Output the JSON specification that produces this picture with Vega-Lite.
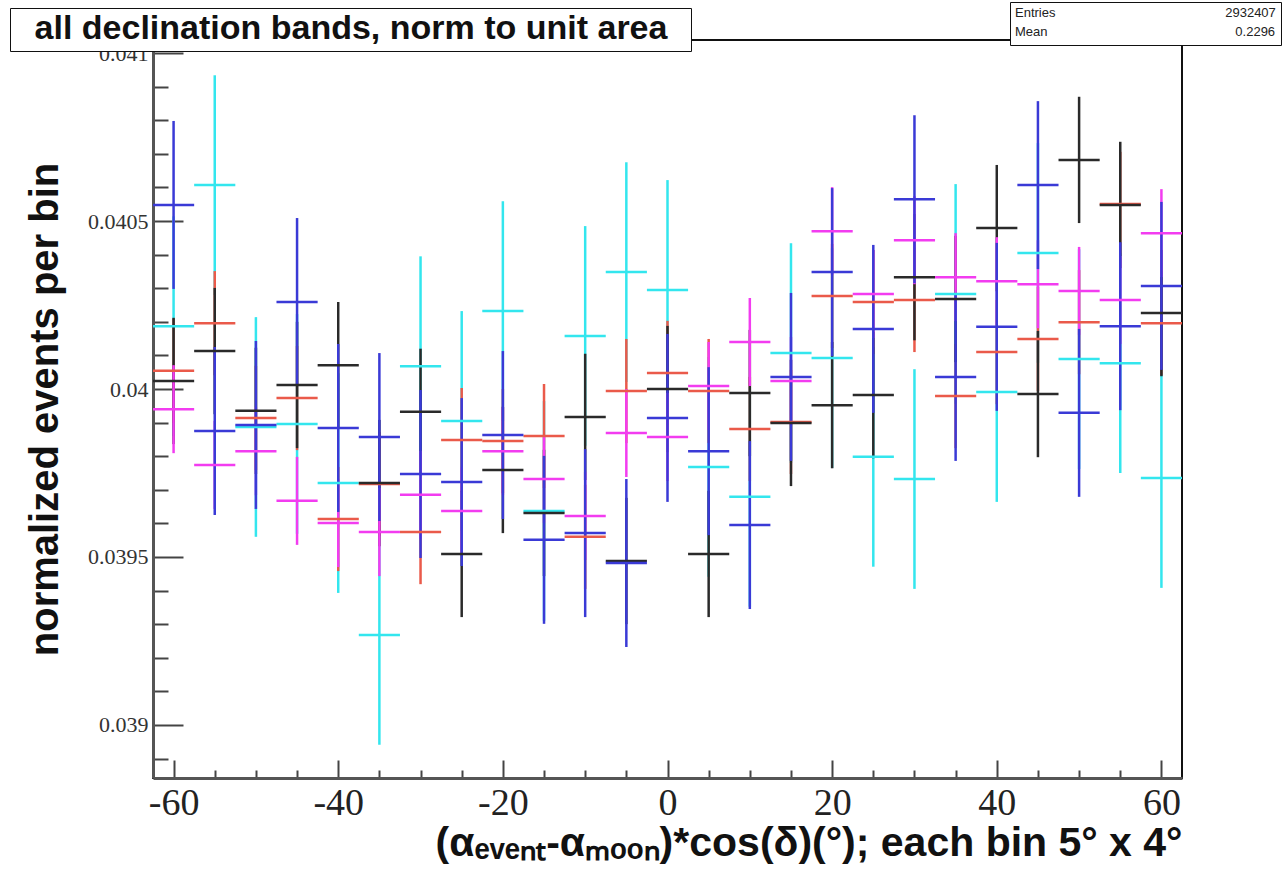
{
  "$schema": "https://vega.github.io/schema/vega-lite/v6.json",
  "autosize": {"type": "none"},
  "padding": {"left": 153, "top": 40, "right": 104, "bottom": 98},
  "width": 1029,
  "height": 738,
  "background": "white",
  "config": {"view": {"stroke": "#111", "strokeWidth": 2}},
  "data": {"values": [
    {"s":"cyan","x":-60,"y":0.040187,"e":0.000327,"w":2.5},
    {"s":"cyan","x":-55,"y":0.040607,"e":0.000327,"w":2.5},
    {"s":"cyan","x":-50,"y":0.039887,"e":0.000327,"w":2.5},
    {"s":"cyan","x":-45,"y":0.039896,"e":0.000327,"w":2.5},
    {"s":"cyan","x":-40,"y":0.039720,"e":0.000327,"w":2.5},
    {"s":"cyan","x":-35,"y":0.039268,"e":0.000327,"w":2.5},
    {"s":"cyan","x":-30,"y":0.040068,"e":0.000327,"w":2.5},
    {"s":"cyan","x":-25,"y":0.039905,"e":0.000327,"w":2.5},
    {"s":"cyan","x":-20,"y":0.040232,"e":0.000327,"w":2.5},
    {"s":"cyan","x":-15,"y":0.039637,"e":0.000327,"w":2.5},
    {"s":"cyan","x":-10,"y":0.040158,"e":0.000327,"w":2.5},
    {"s":"cyan","x":-5,"y":0.040348,"e":0.000327,"w":2.5},
    {"s":"cyan","x":0,"y":0.040295,"e":0.000327,"w":2.5},
    {"s":"cyan","x":5,"y":0.039768,"e":0.000327,"w":2.5},
    {"s":"cyan","x":10,"y":0.039679,"e":0.000327,"w":2.5},
    {"s":"cyan","x":15,"y":0.040107,"e":0.000327,"w":2.5},
    {"s":"cyan","x":20,"y":0.040092,"e":0.000327,"w":2.5},
    {"s":"cyan","x":25,"y":0.039798,"e":0.000327,"w":2.5},
    {"s":"cyan","x":30,"y":0.039732,"e":0.000327,"w":2.5},
    {"s":"cyan","x":35,"y":0.040283,"e":0.000327,"w":2.5},
    {"s":"cyan","x":40,"y":0.039991,"e":0.000327,"w":2.5},
    {"s":"cyan","x":45,"y":0.040405,"e":0.000327,"w":2.5},
    {"s":"cyan","x":50,"y":0.040089,"e":0.000327,"w":2.5},
    {"s":"cyan","x":55,"y":0.040077,"e":0.000327,"w":2.5},
    {"s":"cyan","x":60,"y":0.039735,"e":0.000327,"w":2.5},
    {"s":"red","x":-60,"y":0.040054,"e":0.000155,"w":2.5},
    {"s":"red","x":-55,"y":0.040196,"e":0.000155,"w":2.5},
    {"s":"red","x":-50,"y":0.039914,"e":0.000155,"w":2.5},
    {"s":"red","x":-45,"y":0.039973,"e":0.000155,"w":2.5},
    {"s":"red","x":-40,"y":0.039613,"e":0.000155,"w":2.5},
    {"s":"red","x":-35,"y":0.039717,"e":0.000155,"w":2.5},
    {"s":"red","x":-30,"y":0.039574,"e":0.000155,"w":2.5},
    {"s":"red","x":-25,"y":0.039848,"e":0.000155,"w":2.5},
    {"s":"red","x":-20,"y":0.039845,"e":0.000155,"w":2.5},
    {"s":"red","x":-15,"y":0.039860,"e":0.000155,"w":2.5},
    {"s":"red","x":-10,"y":0.039560,"e":0.000155,"w":2.5},
    {"s":"red","x":-5,"y":0.039994,"e":0.000155,"w":2.5},
    {"s":"red","x":0,"y":0.040048,"e":0.000155,"w":2.5},
    {"s":"red","x":5,"y":0.039994,"e":0.000155,"w":2.5},
    {"s":"red","x":10,"y":0.039881,"e":0.000155,"w":2.5},
    {"s":"red","x":15,"y":0.039902,"e":0.000155,"w":2.5},
    {"s":"red","x":20,"y":0.040277,"e":0.000155,"w":2.5},
    {"s":"red","x":25,"y":0.040259,"e":0.000155,"w":2.5},
    {"s":"red","x":30,"y":0.040265,"e":0.000155,"w":2.5},
    {"s":"red","x":35,"y":0.039979,"e":0.000155,"w":2.5},
    {"s":"red","x":40,"y":0.040110,"e":0.000155,"w":2.5},
    {"s":"red","x":45,"y":0.040149,"e":0.000155,"w":2.5},
    {"s":"red","x":50,"y":0.040199,"e":0.000155,"w":2.5},
    {"s":"red","x":55,"y":0.040551,"e":0.000155,"w":2.5},
    {"s":"red","x":60,"y":0.040196,"e":0.000155,"w":2.5},
    {"s":"black","x":-60,"y":0.040024,"e":0.000188,"w":2.5},
    {"s":"black","x":-55,"y":0.040113,"e":0.000188,"w":2.5},
    {"s":"black","x":-50,"y":0.039935,"e":0.000188,"w":2.5},
    {"s":"black","x":-45,"y":0.040012,"e":0.000188,"w":2.5},
    {"s":"black","x":-40,"y":0.040071,"e":0.000188,"w":2.5},
    {"s":"black","x":-35,"y":0.039720,"e":0.000188,"w":2.5},
    {"s":"black","x":-30,"y":0.039932,"e":0.000188,"w":2.5},
    {"s":"black","x":-25,"y":0.039509,"e":0.000188,"w":2.5},
    {"s":"black","x":-20,"y":0.039759,"e":0.000188,"w":2.5},
    {"s":"black","x":-15,"y":0.039631,"e":0.000188,"w":2.5},
    {"s":"black","x":-10,"y":0.039917,"e":0.000188,"w":2.5},
    {"s":"black","x":-5,"y":0.039488,"e":0.000188,"w":2.5},
    {"s":"black","x":0,"y":0.040000,"e":0.000188,"w":2.5},
    {"s":"black","x":5,"y":0.039509,"e":0.000188,"w":2.5},
    {"s":"black","x":10,"y":0.039988,"e":0.000188,"w":2.5},
    {"s":"black","x":15,"y":0.039899,"e":0.000188,"w":2.5},
    {"s":"black","x":20,"y":0.039952,"e":0.000188,"w":2.5},
    {"s":"black","x":25,"y":0.039982,"e":0.000188,"w":2.5},
    {"s":"black","x":30,"y":0.040333,"e":0.000188,"w":2.5},
    {"s":"black","x":35,"y":0.040268,"e":0.000188,"w":2.5},
    {"s":"black","x":40,"y":0.040479,"e":0.000188,"w":2.5},
    {"s":"black","x":45,"y":0.039985,"e":0.000188,"w":2.5},
    {"s":"black","x":50,"y":0.040682,"e":0.000188,"w":2.5},
    {"s":"black","x":55,"y":0.040548,"e":0.000188,"w":2.5},
    {"s":"black","x":60,"y":0.040226,"e":0.000188,"w":2.5},
    {"s":"magenta","x":-60,"y":0.039940,"e":0.000131,"w":2.5},
    {"s":"magenta","x":-55,"y":0.039774,"e":0.000131,"w":2.5},
    {"s":"magenta","x":-50,"y":0.039815,"e":0.000131,"w":2.5},
    {"s":"magenta","x":-45,"y":0.039667,"e":0.000131,"w":2.5},
    {"s":"magenta","x":-40,"y":0.039601,"e":0.000131,"w":2.5},
    {"s":"magenta","x":-35,"y":0.039574,"e":0.000131,"w":2.5},
    {"s":"magenta","x":-30,"y":0.039685,"e":0.000131,"w":2.5},
    {"s":"magenta","x":-25,"y":0.039637,"e":0.000131,"w":2.5},
    {"s":"magenta","x":-20,"y":0.039815,"e":0.000131,"w":2.5},
    {"s":"magenta","x":-15,"y":0.039732,"e":0.000131,"w":2.5},
    {"s":"magenta","x":-10,"y":0.039622,"e":0.000131,"w":2.5},
    {"s":"magenta","x":-5,"y":0.039869,"e":0.000131,"w":2.5},
    {"s":"magenta","x":0,"y":0.039857,"e":0.000131,"w":2.5},
    {"s":"magenta","x":5,"y":0.040009,"e":0.000131,"w":2.5},
    {"s":"magenta","x":10,"y":0.040140,"e":0.000131,"w":2.5},
    {"s":"magenta","x":15,"y":0.040024,"e":0.000131,"w":2.5},
    {"s":"magenta","x":20,"y":0.040470,"e":0.000131,"w":2.5},
    {"s":"magenta","x":25,"y":0.040283,"e":0.000131,"w":2.5},
    {"s":"magenta","x":30,"y":0.040443,"e":0.000131,"w":2.5},
    {"s":"magenta","x":35,"y":0.040333,"e":0.000131,"w":2.5},
    {"s":"magenta","x":40,"y":0.040321,"e":0.000131,"w":2.5},
    {"s":"magenta","x":45,"y":0.040312,"e":0.000131,"w":2.5},
    {"s":"magenta","x":50,"y":0.040292,"e":0.000131,"w":2.5},
    {"s":"magenta","x":55,"y":0.040265,"e":0.000131,"w":2.5},
    {"s":"magenta","x":60,"y":0.040464,"e":0.000131,"w":2.5},
    {"s":"blue","x":-60,"y":0.040548,"e":0.00025,"w":2.5},
    {"s":"blue","x":-55,"y":0.039875,"e":0.00025,"w":2.5},
    {"s":"blue","x":-50,"y":0.039893,"e":0.00025,"w":2.5},
    {"s":"blue","x":-45,"y":0.040259,"e":0.00025,"w":2.5},
    {"s":"blue","x":-40,"y":0.039884,"e":0.00025,"w":2.5},
    {"s":"blue","x":-35,"y":0.039857,"e":0.00025,"w":2.5},
    {"s":"blue","x":-30,"y":0.039747,"e":0.00025,"w":2.5},
    {"s":"blue","x":-25,"y":0.039723,"e":0.00025,"w":2.5},
    {"s":"blue","x":-20,"y":0.039863,"e":0.00025,"w":2.5},
    {"s":"blue","x":-15,"y":0.039551,"e":0.00025,"w":2.5},
    {"s":"blue","x":-10,"y":0.039571,"e":0.00025,"w":2.5},
    {"s":"blue","x":-5,"y":0.039482,"e":0.00025,"w":2.5},
    {"s":"blue","x":0,"y":0.039914,"e":0.00025,"w":2.5},
    {"s":"blue","x":5,"y":0.039815,"e":0.00025,"w":2.5},
    {"s":"blue","x":10,"y":0.039595,"e":0.00025,"w":2.5},
    {"s":"blue","x":15,"y":0.040036,"e":0.00025,"w":2.5},
    {"s":"blue","x":20,"y":0.040348,"e":0.00025,"w":2.5},
    {"s":"blue","x":25,"y":0.040179,"e":0.00025,"w":2.5},
    {"s":"blue","x":30,"y":0.040565,"e":0.00025,"w":2.5},
    {"s":"blue","x":35,"y":0.040036,"e":0.00025,"w":2.5},
    {"s":"blue","x":40,"y":0.040185,"e":0.00025,"w":2.5},
    {"s":"blue","x":45,"y":0.040607,"e":0.00025,"w":2.5},
    {"s":"blue","x":50,"y":0.039929,"e":0.00025,"w":2.5},
    {"s":"blue","x":55,"y":0.040187,"e":0.00025,"w":2.5},
    {"s":"blue","x":60,"y":0.040307,"e":0.00025,"w":2.5}
  ]},
  "encoding": {
    "x": {
      "field": "x", "type": "quantitative",
      "scale": {"domain": [-62.5, 62.5], "nice": false, "zero": false},
      "axis": {
        "values": [-60,-55,-50,-45,-40,-35,-30,-25,-20,-15,-10,-5,0,5,10,15,20,25,30,35,40,45,50,55,60],
        "labelExpr": "datum.value % 20 === 0 ? '' + datum.value : ''",
        "tickSize": {"condition": {"test": "datum.value % 20 === 0", "value": -18}, "value": -8},
        "tickColor": "#444", "tickWidth": 2,
        "domainColor": "#555", "domainWidth": 3,
        "grid": false, "labelFlush": false,
        "labelFont": "Liberation Serif", "labelFontSize": 38, "labelColor": "#222", "labelPadding": 24,
        "title": "(αₑᵥₑₙₜ-αₘₒₒₙ)*cos(δ)(°); each bin 5° x 4°",
        "titleFont": "Liberation Sans", "titleFontSize": 41, "titleFontWeight": "bold", "titleColor": "#111",
        "titleAnchor": "end", "titlePadding": 1
      }
    },
    "y": {
      "field": "y", "type": "quantitative",
      "scale": {"domain": [0.038842, 0.041039], "nice": false, "zero": false},
      "axis": {
        "values": [0.0389,0.039,0.0391,0.0392,0.0393,0.0394,0.0395,0.0396,0.0397,0.0398,0.0399,0.04,0.0401,0.0402,0.0403,0.0404,0.0405,0.0406,0.0407,0.0408,0.0409,0.041],
        "labelExpr": "abs(datum.value*2000 - round(datum.value*2000)) < 0.000001 ? '' + datum.value : ''",
        "tickSize": {"condition": {"test": "abs(datum.value*2000 - round(datum.value*2000)) < 0.000001", "value": -30}, "value": -15},
        "tickColor": "#444", "tickWidth": 2,
        "domainColor": "#555", "domainWidth": 3,
        "grid": false,
        "labelFont": "Liberation Serif", "labelFontSize": 22, "labelColor": "#333", "labelPadding": 35,
        "title": "normalized events per bin",
        "titleFont": "Liberation Sans", "titleFontSize": 40, "titleFontWeight": "bold", "titleColor": "#111",
        "titlePadding": 22
      }
    },
    "color": {
      "field": "s", "type": "nominal",
      "scale": {"domain": ["black", "red", "blue", "magenta", "cyan"], "range": ["#2a2a2a", "#ea5a4a", "#3a3ad6", "#f23cf0", "#33e6ee"]},
      "legend": null
    }
  },
  "layer": [
    {"mark": {"type": "errorbar", "thickness": 2.5}, "encoding": {"yError": {"field": "e"}}},
    {"mark": {"type": "errorbar", "thickness": 2.5}, "encoding": {"xError": {"field": "w"}}},
    {
      "mark": {"type": "point", "opacity": 0},
      "encoding": {
        "shape": {"datum": "t", "legend": {
          "orient": "none", "legendX": -143, "legendY": -32,
          "title": "all declination bands, norm to unit area",
          "titleFont": "Liberation Sans", "titleFontSize": 34, "titleFontWeight": "bold", "titleColor": "#111",
          "titleLimit": 2000, "titlePadding": 0, "titleAnchor": "middle",
          "fillColor": "white", "strokeColor": "#111", "padding": 4,
          "symbolOffset": 668,
          "labelExpr": "''", "labelFontSize": 1, "symbolSize": 0, "symbolOpacity": 0, "symbolStrokeWidth": 0, "rowPadding": 0
        }}
      }
    },
    {
      "mark": {"type": "point", "opacity": 0},
      "encoding": {
        "strokeDash": {"datum": "u", "legend": {
          "orient": "none", "legendX": 857, "legendY": -38,
          "title": ["Entries\u00a0\u00a0\u00a0\u00a0\u00a0\u00a0\u00a0\u00a0\u00a0\u00a0\u00a0\u00a0\u00a0\u00a0\u00a0\u00a0\u00a0\u00a0\u00a0\u00a0\u00a0\u00a0\u00a0\u00a0\u00a0\u00a0\u00a0\u00a0\u00a0\u00a0\u00a0\u00a0\u00a0\u00a0\u00a0\u00a0\u00a0\u00a0\u00a0\u00a0\u00a0\u00a0\u00a0\u00a0\u00a0\u00a0\u00a02932407\u00a0", "Mean\u00a0\u00a0\u00a0\u00a0\u00a0\u00a0\u00a0\u00a0\u00a0\u00a0\u00a0\u00a0\u00a0\u00a0\u00a0\u00a0\u00a0\u00a0\u00a0\u00a0\u00a0\u00a0\u00a0\u00a0\u00a0\u00a0\u00a0\u00a0\u00a0\u00a0\u00a0\u00a0\u00a0\u00a0\u00a0\u00a0\u00a0\u00a0\u00a0\u00a0\u00a0\u00a0\u00a0\u00a0\u00a0\u00a0\u00a0\u00a0\u00a0\u00a0\u00a0\u00a00.2296\u00a0"],
          "titleFont": "Liberation Sans", "titleFontSize": 13, "titleFontWeight": "normal", "titleColor": "#222",
          "titleLimit": 2000, "titlePadding": 0, "titleLineHeight": 19,
          "fillColor": "white", "strokeColor": "#111", "padding": 5,
          "labelExpr": "''", "labelFontSize": 1, "symbolSize": 0, "symbolOpacity": 0, "symbolStrokeWidth": 0, "rowPadding": 0
        }}
      }
    }
  ]
}
